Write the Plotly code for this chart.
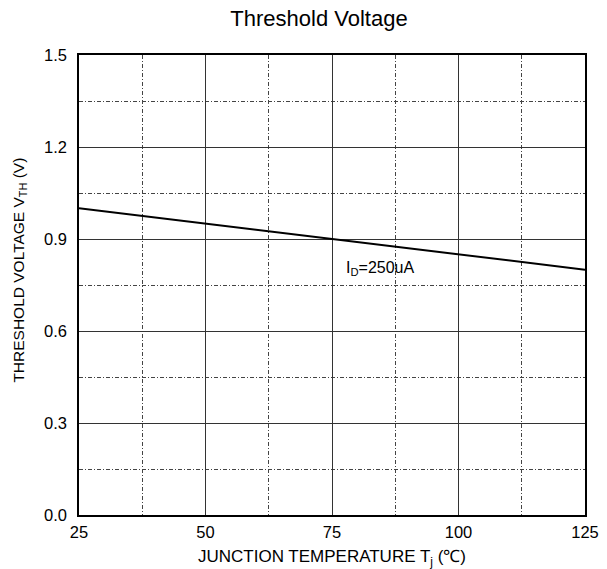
import plotly.graph_objects as go

temp_c = [25, 125]
vth_v = [1.0, 0.8]
x_ticks = [25, 50, 75, 100, 125]
y_ticks = [0.0, 0.3, 0.6, 0.9, 1.2, 1.5]
y_tick_labels = ["0.0", "0.3", "0.6", "0.9", "1.2", "1.5"]

FONT = "Liberation Sans, Arial, sans-serif"

fig = go.Figure()
fig.add_trace(go.Scatter(x=temp_c, y=vth_v, mode="lines",
                         line=dict(color="black", width=2), showlegend=False))

fig.add_annotation(x=77.3, y=0.805, xref="x", yref="y", xanchor="left", yanchor="middle",
                   text="I<sub>D</sub>=250uA", showarrow=False,
                   font=dict(family=FONT, size=16, color="black"))

# y-axis title as rotated annotation for precise placement
fig.add_annotation(x=-0.117, y=0.533, xref="paper", yref="paper", xanchor="center",
                   yanchor="middle", textangle=-90, showarrow=False,
                   text="THRESHOLD VOLTAGE V<sub>TH</sub> (V)",
                   font=dict(family=FONT, size=15.5, color="black"))

fig.update_layout(
    width=607, height=569,
    margin=dict(l=79, r=22, t=55, b=54),
    paper_bgcolor="white", plot_bgcolor="white",
    title=dict(text="Threshold Voltage", x=0.5255, xanchor="center", y=0.968, yanchor="middle",
               font=dict(family=FONT, size=22, color="black")),
    font=dict(family=FONT, size=16, color="black"),
)
fig.update_xaxes(
    range=[25, 125], tickvals=x_ticks, ticks="", showline=True, linecolor="black", linewidth=1.5,
    mirror=True, showgrid=True, gridcolor="#333", gridwidth=1, zeroline=False,
    automargin=False, ticklabelstandoff=1,
    minor=dict(tickvals=[37.5, 62.5, 87.5, 112.5], showgrid=True, gridcolor="#444",
               griddash="4px,2px,1px,2px", gridwidth=1),
    title=dict(text="JUNCTION TEMPERATURE T<sub>j</sub> (℃)", standoff=13,
               font=dict(family=FONT, size=17)),
    tickfont=dict(family=FONT, size=16.5),
)
fig.update_yaxes(
    range=[0, 1.5], tickvals=y_ticks, ticktext=y_tick_labels, ticks="", showline=True,
    linecolor="black", linewidth=1.5, mirror=True, showgrid=True, gridcolor="#333", gridwidth=1,
    zeroline=False, ticklabelstandoff=7, automargin=False,
    minor=dict(tickvals=[0.15, 0.45, 0.75, 1.05, 1.35], showgrid=True, gridcolor="#444",
               griddash="4px,2px,1px,2px", gridwidth=1),
    tickfont=dict(family=FONT, size=16.5),
)

fig.write_html("out.html")
